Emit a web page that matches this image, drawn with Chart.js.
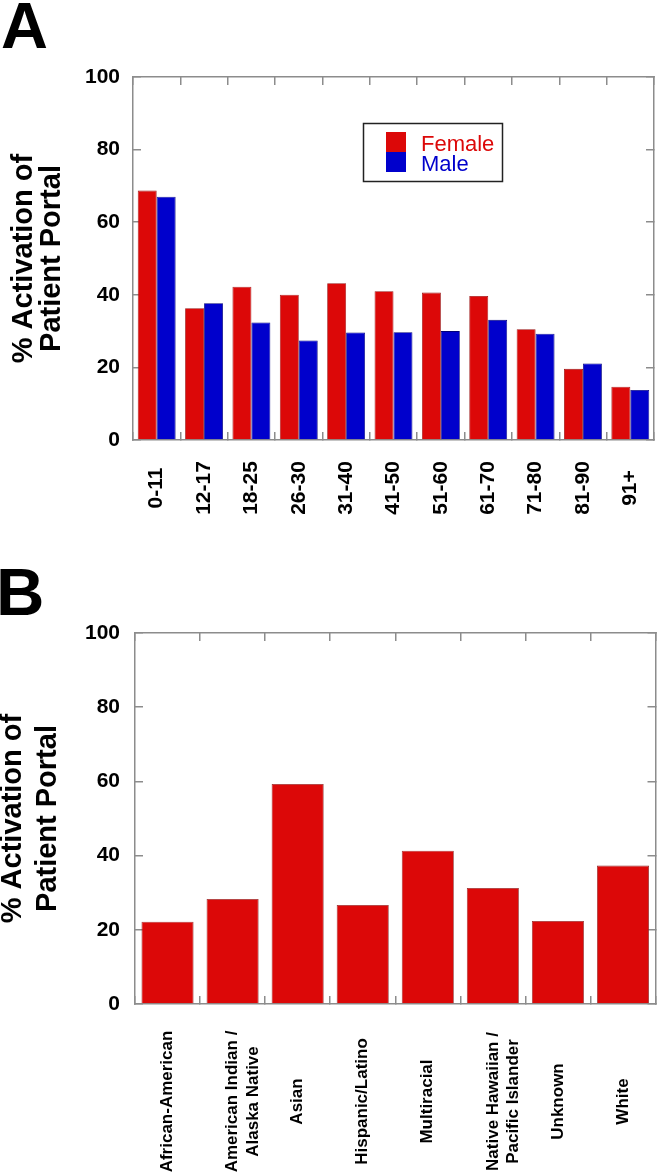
<!DOCTYPE html>
<html><head><meta charset="utf-8">
<script src="https://cdn.jsdelivr.net/npm/chart.js@4.4.1/dist/chart.umd.min.js"></script>
<style>
html,body{margin:0;padding:0;background:#fff;}
#wrap{position:relative;width:660px;height:1174px;overflow:hidden;background:#fff;}
canvas{position:absolute;left:0;}
.panel{position:absolute;font-family:"Liberation Sans",Arial,sans-serif;font-weight:bold;color:#000;line-height:1;white-space:nowrap;}
</style></head><body>
<div id="wrap">
<canvas id="cA" width="660" height="560" style="top:0px"></canvas>
<canvas id="cB" width="660" height="614" style="top:560px"></canvas>
<div class="panel" style="left:1px;top:-7px;font-size:65px;">A</div>
<div class="panel" style="left:-4px;top:558px;font-size:67px;">B</div>
</div>
<script>
// ---- data ----
const ageGroups = ['0-11','12-17','18-25','26-30','31-40','41-50','51-60','61-70','71-80','81-90','91+'];
const femalePct = [68.7, 36.3, 42.2, 40.0, 43.2, 41.0, 40.6, 39.7, 30.5, 19.6, 14.7];
const malePct   = [67.0, 37.7, 32.4, 27.4, 29.6, 29.7, 30.0, 33.1, 29.3, 21.1, 13.8];
const raceGroups = ['African-American', ['American Indian /','Alaska Native'], 'Asian', 'Hispanic/Latino', 'Multiracial', ['Native Hawaiian /','Pacific Islander'], 'Unknown', 'White'];
const racePct = [22.2, 28.3, 59.3, 26.7, 41.3, 31.3, 22.4, 37.3];
const yTickValues = [0, 20, 40, 60, 80, 100];
const yTitle = ['% Activation of', 'Patient Portal'];

const FONT = '"Liberation Sans", Arial, Helvetica, sans-serif';
Chart.defaults.font.family = FONT;
Chart.defaults.color = '#000';

const RED = '#dc0808';
const BLUE = '#0000cc';
const AXIS = '#8c8c8c';

const centeredXLabels = {
  id: 'centeredXLabels',
  afterDraw(chart, args, o) {
    const scale = chart.scales.x;
    const ctx = chart.ctx;
    ctx.save();
    ctx.fillStyle = '#000';
    ctx.font = 'bold ' + o.size + 'px ' + FONT;
    ctx.textAlign = 'center';
    ctx.textBaseline = 'middle';
    chart.data.labels.forEach((lab, i) => {
      const lines = Array.isArray(lab) ? lab : [lab];
      const x = scale.getPixelForTick(i);
      ctx.save();
      ctx.translate(x, o.centerY);
      ctx.rotate(-Math.PI / 2);
      lines.forEach((ln, j) => ctx.fillText(ln, 0, j * o.lineHeight));
      ctx.restore();
    });
    ctx.restore();
  }
};

const boxLegend = {
  id: 'boxLegend',
  afterDraw(chart, args, o) {
    if (!o || !o.show) return;
    const ctx = chart.ctx;
    ctx.save();
    ctx.lineWidth = 1.5;
    ctx.strokeStyle = '#222';
    ctx.strokeRect(o.x, o.y, o.w, o.h);
    ctx.font = '22px ' + FONT;
    ctx.textAlign = 'left';
    ctx.textBaseline = 'alphabetic';
    chart.data.datasets.forEach((ds, i) => {
      const top = o.swatchY + i * o.swatch;
      ctx.fillStyle = ds.backgroundColor;
      ctx.fillRect(o.swatchX, top, o.swatch, o.swatch);
      ctx.fillText(ds.label, o.textX, o.baseY + i * o.textStep);
    });
    ctx.restore();
  }
};

function gridOpts() {
  return { display: true, drawOnChartArea: false, drawTicks: true, tickLength: -8, color: AXIS, lineWidth: 1.5, offset: true };
}
function borderOpts() { return { display: true, color: AXIS, width: 1.5 }; }

function makeScales(p) {
  return {
    x: {
      type: 'category', position: 'bottom', offset: true,
      grid: gridOpts(), border: borderOpts(),
      ticks: { display: false },
      afterFit: s => { s.height = p.xHeight; }
    },
    x2: {
      type: 'category', position: 'top', offset: true,
      grid: gridOpts(), border: borderOpts(),
      ticks: { display: false },
      afterFit: s => { s.height = 0; }
    },
    y: {
      type: 'linear', position: 'left', min: 0, max: 100,
      afterBuildTicks: s => { s.ticks = yTickValues.map(v => ({ value: v })); },
      grid: Object.assign(gridOpts(), { offset: false }), border: borderOpts(),
      ticks: { font: { size: 21, weight: 'bold' }, color: '#000', padding: p.tickPad },
      title: { display: true, text: yTitle, color: '#000',
               font: { size: 29, weight: 'bold', lineHeight: p.titleLH + 'px' },
               padding: { top: p.titlePad, bottom: 0 } },
      afterFit: s => { s.width = p.yWidth; }
    },
    y2: {
      type: 'linear', position: 'right', min: 0, max: 100,
      afterBuildTicks: s => { s.ticks = yTickValues.map(v => ({ value: v })); },
      grid: Object.assign(gridOpts(), { offset: false }), border: borderOpts(),
      ticks: { display: false },
      afterFit: s => { s.width = 0; }
    }
  };
}

// ---- Chart A ----
new Chart(document.getElementById('cA'), {
  type: 'bar',
  data: {
    labels: ageGroups,
    datasets: [
      { label: 'Female', data: femalePct, backgroundColor: RED, borderColor: '#9a1010', borderWidth: 0.8,
        categoryPercentage: 0.8, barPercentage: 1.0 },
      { label: 'Male', data: malePct, backgroundColor: BLUE, borderColor: '#00007a', borderWidth: 0.8,
        categoryPercentage: 0.8, barPercentage: 1.0 }
    ]
  },
  options: {
    responsive: false, animation: false, devicePixelRatio: 1,
    layout: { padding: { left: 0, right: 6, top: 77, bottom: 0 } },
    plugins: {
      legend: { display: false }, tooltip: { enabled: false },
      centeredXLabels: { size: 21, centerY: 488, lineHeight: 22 },
      boxLegend: { show: true, x: 363.5, y: 123.5, w: 139, h: 58, swatchX: 386, swatchY: 132, swatch: 20,
                   textX: 421, baseY: 151, textStep: 19.7 }
    },
    scales: makeScales({ xHeight: 120, yWidth: 133, tickPad: 21, titleLH: 28, titlePad: 10 })
  },
  plugins: [centeredXLabels, boxLegend]
});

// ---- Chart B ----
new Chart(document.getElementById('cB'), {
  type: 'bar',
  data: {
    labels: raceGroups,
    datasets: [
      { label: 'Race', data: racePct, backgroundColor: RED, borderColor: '#8f2a2a', borderWidth: 0.8,
        categoryPercentage: 1.0, barPercentage: 0.8 }
    ]
  },
  options: {
    responsive: false, animation: false, devicePixelRatio: 1,
    layout: { padding: { left: 0, right: 4.5, top: 73, bottom: 0 } },
    plugins: {
      legend: { display: false }, tooltip: { enabled: false },
      centeredXLabels: { size: 17, centerY: 541.5, lineHeight: 20.5 },
      boxLegend: { show: false }
    },
    scales: makeScales({ xHeight: 170, yWidth: 135, tickPad: 23, titleLH: 35, titlePad: -4.5 })
  },
  plugins: [centeredXLabels, boxLegend]
});
</script>
</body></html>
